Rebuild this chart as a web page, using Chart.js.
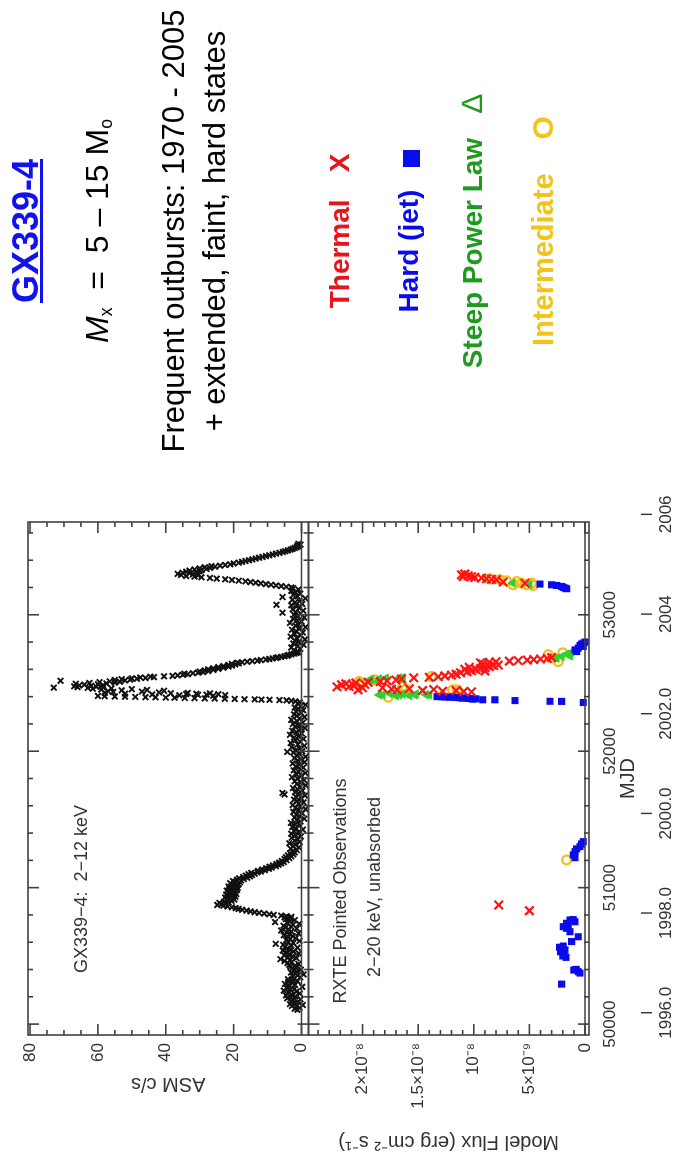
<!DOCTYPE html>
<html>
<head>
<meta charset="utf-8">
<title>GX339-4</title>
<script src="https://cdn.jsdelivr.net/npm/chart.js@4.4.1/dist/chart.umd.min.js"></script>
<style>
html, body { margin: 0; padding: 0; background: #fff; width: 675px; height: 1157px; overflow: hidden; }
/* the slide is laid out landscape and turned a quarter left, like the picture */
#slide { position: absolute; left: 0; top: 0; width: 1157px; height: 675px; background: #fff;
  transform-origin: 0 0; transform: translate(0, 1157px) rotate(-90deg);
  font-family: "Liberation Sans", Arial, sans-serif; }
#plot { position: absolute; left: 0; top: 0; }
.line { position: absolute; left: 696px; width: 460px; text-align: center; white-space: pre; line-height: 1; color: #000; }
.line sub { font-size: 0.55em; vertical-align: -0.25em; }
.b { font-weight: bold; }
.sym { display: inline-block; }
</style>
</head>
<body>
<div id="slide">
  <canvas id="plot" width="700" height="675"></canvas>

  <div class="line b" style="top:8px;font-size:36px;color:#1212ee;text-decoration:underline">GX339-4</div>
  <div class="line" style="top:81px;font-size:32px"><i>M</i><sub>x</sub>  =  5 – 15 M<sub>o</sub></div>
  <div class="line" style="top:158px;font-size:31px">Frequent outbursts: 1970 - 2005</div>
  <div class="line" style="top:199px;font-size:31px">+ extended, faint, hard states</div>

  <div class="line b" style="top:326px;font-size:28px;color:#e8141c">Thermal<span class="sym" style="margin-left:27px">X</span></div>
  <div class="line b" style="top:395px;font-size:28px;color:#0a0aee">Hard (jet)<span class="sym" style="margin-left:23px;width:17px;height:17px;background:#0a0aee;vertical-align:-2px"></span></div>
  <div class="line b" style="top:457px;font-size:28px;color:#1f9a1f">Steep Power Law<span class="sym" style="margin-left:24px;font-weight:normal;font-size:30px">Δ</span></div>
  <div class="line b" style="top:528px;font-size:29px;color:#f2c41a">Intermediate<span class="sym" style="margin-left:34px;font-size:30px">O</span></div>
</div>

<script>
// ASM 2-12 keV daily rate, [MJD, counts/s]
var asmCurve = [
  [50105,1.2],[50112,2.0],[50119,0.6],[50126,1.6],[50133,2.8],[50140,-0.4],[50147,3.4],[50154,2.2],[50161,1.0],[50168,3.0],
  [50175,2.4],[50182,0.3],[50189,4.2],[50196,3.1],[50203,1.8],[50210,4.6],[50217,2.9],[50224,0.5],[50231,3.8],[50238,1.5],
  [50245,5.2],[50252,3.3],[50259,2.1],[50266,4.4],[50273,-0.2],[50280,3.6],[50287,1.9],[50294,4.9],[50301,2.7],[50308,3.9],
  [50315,1.2],[50322,2.5],[50329,4.0],[50336,2.2],[50343,0.4],[50350,2.6],[50357,1.1],[50364,-0.6],[50371,1.8],[50378,3.1],
  [50385,1.4],[50392,2.2],[50399,0.2],[50406,2.8],[50413,1.6],[50420,3.3],[50427,2.0],[50434,3.6],[50441,0.9],[50448,4.1],
  [50455,2.9],[50462,5.0],[50469,3.4],[50476,6.2],[50483,1.5],[50490,4.0],[50497,2.6],[50504,5.1],[50511,3.7],[50518,0.8],
  [50525,4.6],[50532,2.3],[50539,5.5],[50546,3.2],[50553,4.3],[50560,1.2],[50567,4.8],[50574,3.0],[50581,5.4],[50588,7.6],
  [50595,2.4],[50602,3.9],[50609,0.6],[50616,4.5],[50623,3.3],[50630,1.7],[50637,4.0],[50644,2.6],[50651,5.2],[50658,3.5],
  [50665,0.9],[50672,4.4],[50679,3.0],[50686,6.0],[50693,3.8],[50700,1.4],[50707,4.7],[50714,3.1],[50721,5.3],[50728,2.5],
  [50735,0.7],[50742,4.1],[50748,7.8],[50755,3.4],[50762,2.0],[50769,4.6],[50776,3.2],[50782,5.0],
  [50786,3.0],[50790,4.5],[50795,6.0],[50800,8.2],[50805,9.5],[50810,11.0],[50815,12.5],[50820,13.8],[50826,15.0],[50832,16.2],
  [50838,17.5],[50844,18.6],[50850,19.4],[50856,20.5],[50862,21.8],[50868,23.0],[50873,24.8],[50878,23.6],[50883,22.4],[50888,24.2],
  [50893,21.5],[50898,22.8],[50903,20.6],[50908,22.0],[50913,19.8],[50918,21.4],[50923,20.2],[50928,22.5],[50933,19.5],[50938,21.0],
  [50943,20.0],[50948,22.2],[50953,19.2],[50958,20.8],[50963,21.6],[50968,19.6],[50973,20.4],[50978,22.0],[50983,19.0],[50988,20.6],
  [50993,21.2],[50998,18.8],[51003,20.0],[51008,21.5],[51013,19.4],[51018,20.4],[51023,18.6],[51028,19.8],[51033,21.0],[51038,18.2],
  [51043,19.5],[51048,20.2],[51053,17.8],[51058,19.0],[51063,17.0],[51068,18.4],[51073,16.0],[51078,17.2],[51083,15.2],[51088,16.4],
  [51093,14.6],[51098,15.6],[51103,13.8],[51108,14.8],[51113,13.0],[51118,12.0],[51123,12.8],[51128,10.8],[51133,11.6],[51138,9.6],
  [51143,10.4],[51148,8.8],[51153,9.4],[51158,7.6],[51163,8.4],[51168,6.8],[51173,7.4],[51178,6.0],[51183,6.6],[51188,5.2],
  [51195,5.8],[51202,4.4],[51209,5.0],[51216,3.6],[51223,4.6],[51230,3.0],[51237,4.0],[51244,2.4],[51251,3.4],[51258,2.0],
  [51265,2.6],[51275,1.4],[51285,3.2],[51295,0.8],[51305,2.4],[51315,1.8],[51325,3.6],[51335,0.5],[51345,2.0],[51355,1.2],
  [51365,2.9],[51375,0.2],[51385,1.7],[51395,3.0],[51405,0.9],[51415,2.2],[51425,-0.4],[51435,1.6],[51445,2.7],[51455,0.6],
  [51465,1.9],[51475,3.1],[51485,0.3],[51495,1.4],[51505,-0.8],[51515,2.1],[51525,0.7],[51535,1.5],[51545,-0.2],[51555,2.4],
  [51565,1.0],[51575,-1.2],[51585,1.8],[51595,0.4],[51605,2.6],[51615,0.9],[51625,-0.6],[51635,1.3],[51645,2.2],[51655,0.1],
  [51665,1.6],[51675,-1.0],[51683,5.0],[51690,0.8],[51694,5.6],[51700,1.9],[51710,-0.3],[51720,1.1],[51730,2.5],[51740,0.5],
  [51750,-1.2],[51760,1.4],[51770,0.2],[51780,2.0],[51790,-0.7],[51800,1.2],[51810,2.8],[51820,0.0],[51830,1.5],[51840,-1.1],
  [51850,0.9],[51860,2.3],[51870,0.4],[51880,-0.5],[51890,1.7],[51900,0.6],[51910,2.6],[51920,-0.9],[51930,1.0],[51940,0.3],
  [51950,2.1],[51960,-1.2],[51970,1.3],[51980,0.7],[51990,2.4],[51995,4.2],[52000,-0.2],[52010,1.6],[52020,0.5],[52030,2.9],
  [52040,-0.8],[52050,1.1],[52060,3.2],[52070,0.4],[52080,1.8],[52090,-0.6],[52100,2.2],[52110,0.9],[52120,3.4],[52130,-0.1],
  [52140,1.5],[52150,2.7],[52160,0.2],[52170,-1.0],[52180,1.9],[52190,0.8],[52200,2.5],[52210,-0.4],[52220,1.3],[52230,3.0],
  [52240,0.6],[52250,-0.9],[52260,1.4],[52270,2.2],[52280,0.1],[52290,1.6],[52300,-0.5],[52310,0.9],[52320,2.0],[52330,0.3],
  [52340,-1.2],[52350,1.1],[52358,0.5],[52365,1.8],
  [52370,3.0],[52373,4.4],[52375,6.5],[52377,9.4],[52378,11.8],[52380,13.8],[52381,16.8],[52383,19.7],[52384,22.6],[52386,25.6],
  [52387,28.5],[52389,31.5],[52390,34.4],[52392,37.4],[52393,40.0],[52395,43.0],[52396,46.0],[52398,49.0],[52399,52.0],[52401,55.0],
  [52403,58.0],[52405,60.0],[52407,26.0],[52410,36.0],[52411,22.5],[52413,30.5],[52415,28.0],[52416,44.0],[52418,24.5],[52419,34.0],
  [52421,31.0],[52422,52.0],[52424,27.0],[52425,38.5],[52427,33.5],[52428,58.0],[52431,42.0],[52434,55.5],[52437,47.0],[52440,57.0],
  [52443,40.5],[52446,53.0],[52449,45.5],[52452,59.0],[52455,50.0],[52458,61.5],[52461,56.0],[52464,63.0],[52466,73.0],[52468,58.5],
  [52470,66.0],[52473,60.5],[52476,67.0],[52479,62.0],[52482,65.5],[52485,58.5],[52488,64.0],[52491,60.0],[52494,66.5],[52497,57.5],
  [52500,62.5],[52503,55.0],[52506,59.5],[52509,53.5],[52512,56.5],[52516,71.0],[52519,52.0],[52522,55.0],[52525,50.5],[52528,53.0],
  [52531,48.5],[52534,50.0],[52537,46.0],[52540,47.5],[52543,43.5],[52546,44.5],[52549,40.5],[52552,38.0],[52556,36.5],[52560,35.0],
  [52564,33.5],[52568,34.5],[52572,32.0],[52576,30.5],[52580,29.0],[52584,30.0],[52588,27.5],[52592,28.5],[52596,26.0],[52600,27.5],
  [52604,24.5],[52608,26.0],[52612,23.0],[52616,24.5],[52620,21.5],[52624,23.0],[52628,20.5],[52632,21.5],[52636,19.5],[52640,20.5],
  [52644,18.5],[52648,19.0],[52652,17.5],[52656,16.0],[52660,14.5],[52664,13.0],[52668,12.0],[52672,10.5],[52676,9.5],[52680,8.5],
  [52684,7.5],[52688,7.0],[52692,6.0],[52696,5.0],[52700,4.2],[52705,3.8],[52710,3.0],[52715,2.2],[52720,1.5],[52725,0.8],[52730,1.2],
  [52740,2.2],[52750,0.4],[52760,3.0],[52770,1.1],[52780,-0.6],[52790,2.4],[52800,0.8],[52810,1.9],[52820,-1.0],[52830,1.4],
  [52840,3.2],[52850,0.2],[52860,2.0],[52870,-0.4],[52880,1.6],[52890,2.8],[52900,0.5],[52910,-1.2],[52920,1.8],[52930,0.9],
  [52940,3.4],[52950,0.0],[52960,1.3],[52970,2.5],[52980,-0.8],[52990,1.0],[53000,2.2],[53010,0.3],[53015,5.6],[53020,1.7],
  [53030,-0.5],[53040,2.6],[53050,0.7],[53060,1.5],[53070,3.0],[53073,7.4],[53080,-0.2],[53090,1.9],[53100,0.6],[53110,2.7],
  [53120,-1.1],[53130,5.6],[53135,1.2],[53145,2.4],[53155,0.4],[53165,1.8],[53175,3.0],[53185,0.9],[53195,2.5],
  [53200,3.0],[53205,4.5],[53210,6.0],[53215,7.5],[53220,9.0],[53225,10.5],[53230,12.0],[53235,13.5],[53240,15.0],[53245,16.5],
  [53250,18.5],[53255,20.5],[53260,22.5],[53265,25.0],[53270,27.0],[53275,29.5],[53280,31.5],[53284,34.0],[53288,30.5],[53292,35.5],
  [53296,32.0],[53300,36.5],[53304,33.0],[53308,35.0],[53312,31.0],[53316,34.0],[53320,30.0],[53324,33.0],[53328,29.5],[53332,31.5],
  [53336,28.0],[53340,30.0],[53344,27.0],[53348,28.5],[53352,25.5],[53356,26.5],[53360,24.0],[53365,22.5],[53370,21.0],[53376,20.0],
  [53382,18.5],[53388,17.5],[53394,16.5],[53400,15.5],[53406,14.5],[53412,13.5],[53418,12.5],[53424,11.5],[53430,10.5],[53436,9.5],
  [53442,8.5],[53448,7.5],[53454,6.5],[53460,5.5],[53466,4.8],[53472,4.0],[53478,3.2],[53484,2.6],[53490,2.0],[53496,1.4],
  [53502,0.8],[53508,1.2],[53514,0.3],[53520,0.9]
]

// RXTE pointed 2-20 keV flux, [MJD, flux in 1e-9 erg cm^-2 s^-1], one list per state
var thermal = [
  [50831,5.0],[50873,7.75],
  [52435,10.2],[52438,10.9],[52440,12.8],[52445,14.6],[52445,11.6],[52450,16.9],[52450,20.4],[52452,13.6],
  [52455,17.4],[52458,15.8],[52465,18.2],[52465,20.0],[52472,22.3],[52474,21.2],[52480,20.8],[52487,21.9],[52490,19.8],[52494,21.5],
  [52500,20.6],[52505,19.5],[52510,18.4],[52516,17.8],[52522,17.0],[52530,16.5],[52538,15.4],[52542,14.0],[52546,13.2],[52552,12.6],
  [52558,12.0],[52565,11.6],[52575,11.2],[52582,10.6],[52588,9.0],[52590,10.2],[52598,9.8],[52600,10.8],[52605,9.4],[52612,9.0],
  [52615,10.4],[52620,8.6],[52628,8.2],[52632,7.8],[52640,9.2],[52648,9.4],[52652,8.6],[52656,8.0],[52660,6.8],[52664,6.0],
  [52668,5.2],[52672,4.6],[52676,4.0],[52680,3.4],[52686,3.0],
  [53232,5.4],[53240,7.35],[53257,7.95],[53260,8.4],[53264,8.85],[53269,9.3],[53274,9.9],[53279,10.2],[53280,10.95],[53286,10.5],
  [53293,11.1],[53299,10.8]
]
var hardJet = [
  [50293,2.1],[50374,0.45],[50384,0.6],[50396,1.0],[50401,0.8],[50489,1.7],[50499,2.0],[50513,1.9],[50530,2.2],[50543,1.8],
  [50563,2.3],[50572,1.95],[50605,1.2],[50640,0.6],[50677,1.35],[50702,1.65],[50714,1.95],[50726,1.5],[50739,1.65],[50750,0.9],
  [50763,1.35],[50766,1.05],
  [51220,0.9],[51240,1.05],[51264,0.9],[51284,0.75],[51301,0.45],[51320,0.3],[51337,0.15],
  [52357,0.15],[52365,2.1],[52366,3.15],[52371,6.3],[52377,8.1],[52377,9.2],[52382,10.1],[52384,9.8],[52386,10.4],[52389,11.0],
  [52391,10.6],[52392,11.3],[52394,11.6],[52396,12.2],[52397,11.9],[52398,12.6],[52399,12.8],[52400,13.3],
  [52731,0.75],[52743,0.9],[52756,0.6],[52768,0.15],[52775,0.45],[52785,0.3],[52792,0.15],[52800,0.0],
  [53191,1.65],[53196,1.8],[53201,1.95],[53208,2.1],[53215,2.55],[53220,3.0],[53225,4.05]
]
var steepPowerLaw = [
  [52406,17.0],[52408,15.8],[52413,18.2],[52413,18.5],[52413,16.7],[52413,15.3],[52413,14.0],[52414,14.3],[52418,16.4],[52420,15.2],
  [52425,17.6],[52510,18.6],[52523,19.2],[52523,19.4],[52523,16.4],[52531,18.5],[52536,17.9],[52538,16.7],[52538,16.4],
  [52682,2.55],[52694,2.1],[52699,1.35],[52712,1.65],[52727,1.2],[52736,0.9],
  [53220,5.0],[53233,6.5]
]
var intermediate = [
  [51203,1.65],
  [52396,17.7],[52428,11.4],[52450,11.9],[52450,11.5],[52455,16.1],[52474,16.4],[52503,20.3],[52511,20.3],[52523,18.9],[52548,13.8],
  [52657,2.4],[52685,2.9],[52707,3.3],[52721,2.0],
  [53215,4.65],[53220,5.25],[53220,6.45],[53232,5.7],[53232,4.8],[53244,6.15],[53249,7.05],[53257,7.65],[53264,8.55]
]

// axis ticks and labels
var mjdTicks = [50000, 51000, 52000, 53000]
var asmTicks = [0, 20, 40, 60, 80]
var fluxTicks = [0, 5, 10, 15, 20]
var fluxTickLabels = ['0', '5×10⁻⁹', '10⁻⁸', '1.5×10⁻⁸', '2×10⁻⁸']
var yearMjd = [50083, 50814, 51544, 52275, 53005, 53736]
var yearLabels = ['1996.0', '1998.0', '2000.0', '2002.0', '2004', '2006']

var FONT = '"Liberation Sans", Arial, sans-serif'
var INK = '#333'

function toPoints(list) {
  return list.map(function (p) { return { x: p[0], y: p[1] } })
}

function seg(ctx, x1, y1, x2, y2) {
  ctx.beginPath()
  ctx.moveTo(x1, y1)
  ctx.lineTo(x2, y2)
  ctx.stroke()
}

// PGPLOT style boxes: frame, zero line and inward ticks on every side
var panelFrames = {
  id: 'panelFrames',
  afterDatasetsDraw: function (chart) {
    var ctx = chart.ctx, area = chart.chartArea, xs = chart.scales.x
    ctx.save()
    ctx.strokeStyle = '#404040'
    ctx.lineWidth = 1.6
    var panels = [
      { s: chart.scales.yAsm, minor: 5, major: 20 },
      { s: chart.scales.yFlux, minor: 1, major: 5 }
    ]
    panels.forEach(function (p) {
      var s = p.s, top = s.top, bottom = s.bottom
      ctx.strokeRect(area.left, top, area.right - area.left, bottom - top)
      var y0 = s.getPixelForValue(0)
      seg(ctx, area.left, y0, area.right, y0)
      for (var m = 50000; m <= 53600; m += 200) {
        var px = xs.getPixelForValue(m)
        var len = m % 1000 === 0 ? 11 : 5
        seg(ctx, px, top, px, top + len)
        seg(ctx, px, bottom, px, bottom - len)
      }
      for (var v = 0; v <= s.max; v += p.minor) {
        var py = s.getPixelForValue(v)
        var l2 = v % p.major === 0 ? 11 : 5
        seg(ctx, area.left, py, area.left + l2, py)
        seg(ctx, area.right, py, area.right - l2, py)
      }
    })
    ctx.restore()
  }
}

// panel captions and the calendar year axis under MJD
var plotNotes = {
  id: 'plotNotes',
  afterDraw: function (chart) {
    var ctx = chart.ctx, xs = chart.scales.x
    ctx.save()
    ctx.fillStyle = INK
    ctx.strokeStyle = INK
    ctx.lineWidth = 1.4
    ctx.textAlign = 'center'
    ctx.textBaseline = 'middle'
    ctx.font = '18px ' + FONT
    ctx.fillText('GX339\u22124:  2\u221212 keV', 268, 82)
    ctx.fillText('RXTE Pointed Observations', 266, 341)
    ctx.fillText('2\u221220 keV, unabsorbed', 270, 375)
    ctx.font = '17px ' + FONT
    yearMjd.forEach(function (m, i) {
      var px = xs.getPixelForValue(m)
      seg(ctx, px, 641, px, 652)
      ctx.fillText(yearLabels[i], px, 666)
    })
    ctx.restore()
  }
}

var tickFont = { family: FONT, size: 17 }
var titleFont = { family: FONT, size: 20 }

var plotCanvas = document.getElementById('plot').getContext('2d')

var lightCurves = new Chart(plotCanvas, {
  type: 'scatter',
  data: {
    datasets: [
      {
        label: 'Thermal', data: toPoints(thermal), xAxisID: 'x', yAxisID: 'yFlux',
        pointStyle: 'crossRot', pointRadius: 6, borderColor: '#ff1414', borderWidth: 2.2
      },
      {
        label: 'Hard (jet)', data: toPoints(hardJet), xAxisID: 'x', yAxisID: 'yFlux',
        pointStyle: 'rect', pointRadius: 5, backgroundColor: '#0a0aee', borderColor: '#0a0aee', borderWidth: 0
      },
      {
        label: 'Steep Power Law', data: toPoints(steepPowerLaw), xAxisID: 'x', yAxisID: 'yFlux',
        pointStyle: 'triangle', pointRadius: 4.8, backgroundColor: '#2ed02e', borderColor: '#2ed02e', borderWidth: 1
      },
      {
        label: 'Intermediate', data: toPoints(intermediate), xAxisID: 'x', yAxisID: 'yFlux',
        pointStyle: 'circle', pointRadius: 4.4, backgroundColor: 'rgba(0,0,0,0)', borderColor: '#f0c020', borderWidth: 2.4
      },
      {
        label: 'ASM', data: toPoints(asmCurve), xAxisID: 'x', yAxisID: 'yAsm',
        pointStyle: 'crossRot', pointRadius: 4, borderColor: '#111', borderWidth: 1.9
      }
    ]
  },
  options: {
    responsive: false,
    animation: false,
    events: [],
    layout: { padding: { top: 28, right: 65, left: 0, bottom: 0 } },
    plugins: { legend: { display: false }, tooltip: { enabled: false } },
    scales: {
      x: {
        type: 'linear', position: 'bottom', min: 49920, max: 53680,
        afterBuildTicks: function (s) { s.ticks = mjdTicks.map(function (v) { return { value: v } }) },
        afterFit: function (s) { s.height = 86 },
        ticks: { font: tickFont, color: INK, padding: 11, maxRotation: 0, autoSkip: false,
          callback: function (v) { return String(v) } },
        grid: { display: false, drawTicks: false },
        border: { display: false },
        title: { display: true, text: 'MJD', font: titleFont, color: INK, padding: { top: 0, bottom: 35 } }
      },
      yFlux: {
        type: 'linear', position: 'left', stack: 'panels', stackWeight: 1,
        min: -0.36, max: 24.86,
        afterBuildTicks: function (s) { s.ticks = fluxTicks.map(function (v) { return { value: v } }) },
        afterFit: function (s) { s.width = 122 },
        ticks: { font: tickFont, color: INK, padding: 8,
          callback: function (v) { return fluxTickLabels[fluxTicks.indexOf(v)] } },
        grid: { display: false, drawTicks: false },
        border: { display: false },
        title: { display: true, text: 'Model Flux (erg cm⁻² s⁻¹)', font: titleFont, color: INK, padding: { top: 3, bottom: 0 } }
      },
      yAsm: {
        type: 'linear', position: 'left', stack: 'panels', stackWeight: 1,
        min: -2.06, max: 80.6,
        afterBuildTicks: function (s) { s.ticks = asmTicks.map(function (v) { return { value: v } }) },
        afterFit: function (s) { s.width = 122 },
        ticks: { font: tickFont, color: INK, padding: 8, callback: function (v) { return String(v) } },
        grid: { display: false, drawTicks: false },
        border: { display: false },
        title: { display: true, text: 'ASM c/s', font: titleFont, color: INK, padding: { top: 61, bottom: 0 } }
      }
    }
  },
  plugins: [panelFrames, plotNotes]
})
</script>
</body>
</html>
